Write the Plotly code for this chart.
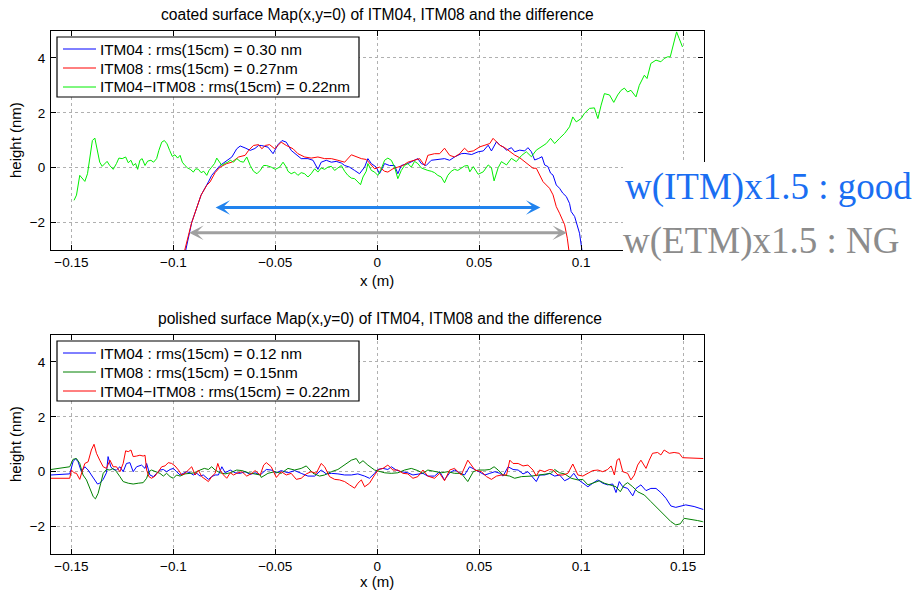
import plotly.graph_objects as go

# ---------------- data (x in m, height in nm) ----------------
top_title = "coated surface Map(x,y=0) of ITM04, ITM08 and the difference"
bot_title = "polished surface Map(x,y=0) of ITM04, ITM08 and the difference"
x_ticks = [-0.15, -0.1, -0.05, 0, 0.05, 0.1, 0.15]
x_tick_text = ["\u22120.15", "\u22120.1", "\u22120.05", "0", "0.05", "0.1", "0.15"]
y_ticks = [-2, 0, 2, 4]
y_tick_text = ["\u22122", "0", "2", "4"]

top_names = ["ITM04 : rms(15cm) = 0.30 nm", "ITM08 : rms(15cm) = 0.27nm",
             "ITM04\u2212ITM08 : rms(15cm) = 0.22nm"]
bot_names = ["ITM04 : rms(15cm) = 0.12 nm", "ITM08 : rms(15cm) = 0.15nm",
             "ITM04\u2212ITM08 : rms(15cm) = 0.22nm"]

top_itm04 = [(-0.0944,-3.3),(-0.0939,-3.0),(-0.0910,-2.0),(-0.0864,-1.0),(-0.0828,-0.52),(-0.0812,-0.28),
    (-0.0771,0.08),(-0.0746,0.2),(-0.0713,0.39),(-0.0689,0.69),(-0.0672,0.79),(-0.0648,0.72),(-0.0623,0.63),
    (-0.0600,0.7),(-0.0582,0.81),(-0.0569,0.81),(-0.0536,0.75),(-0.0511,0.51),(-0.0487,0.84),(-0.0467,0.99),
    (-0.0446,0.93),(-0.0422,0.63),(-0.0397,0.47),(-0.0373,0.33),(-0.0340,0.33),(-0.0315,0.27),(-0.0291,-0.06),
    (-0.0275,0.2),(-0.0250,0.27),(-0.0225,0.2),(-0.0201,0.23),(-0.0176,0.17),(-0.0160,0.08),(-0.0136,0.02),
    (-0.0111,-0.1),(-0.0087,-0.22),(-0.0062,0.02),(-0.0046,0.33),(-0.0029,0.15),(-0.0005,0.02),(0.0011,-0.22),
    (0.0036,0.15),(0.0060,0.08),(0.0085,0.08),(0.0101,-0.22),(0.0118,0.08),(0.0150,0.15),(0.0183,0.27),
    (0.0199,0.33),(0.0216,0.15),(0.0240,0.08),(0.0265,0.27),(0.0297,0.3),(0.0330,0.33),(0.0355,0.27),
    (0.0379,0.39),(0.0412,0.51),(0.0430,0.52),(0.0463,0.48),(0.0495,0.58),(0.0520,0.61),(0.0544,0.82),
    (0.0560,0.61),(0.0585,0.95),(0.0601,0.82),(0.0617,0.76),(0.0634,0.64),(0.0658,0.73),(0.0674,0.58),
    (0.0699,0.64),(0.0723,0.61),(0.0739,0.73),(0.0756,0.58),(0.0772,0.28),(0.0792,0.34),(0.0808,0.4),
    (0.0821,0.1),(0.0837,0.04),(0.0850,-0.2),(0.0862,-0.27),(0.0878,-0.63),(0.0894,-0.75),(0.0910,-0.93),
    (0.0927,-1.05),(0.0943,-1.3),(0.0951,-1.6),(0.0968,-1.78),(0.0981,-2.08),(0.0992,-2.39),(0.1003,-2.96),
    (0.1008,-3.3)]

top_itm08 = [(-0.0950,-3.3),(-0.0944,-3.0),(-0.0910,-2.0),(-0.0864,-1.0),(-0.0836,-0.64),(-0.0820,-0.52),
    (-0.0795,-0.18),(-0.0771,0.02),(-0.0738,0.15),(-0.0713,0.2),(-0.0680,0.39),(-0.0648,0.45),(-0.0631,0.63),
    (-0.0607,0.81),(-0.0582,0.84),(-0.0566,0.69),(-0.0549,0.81),(-0.0528,0.84),(-0.0503,0.69),(-0.0471,0.93),
    (-0.0446,0.81),(-0.0413,0.69),(-0.0389,0.51),(-0.0356,0.39),(-0.0324,0.35),(-0.0291,0.39),(-0.0258,0.33),
    (-0.0225,0.33),(-0.0193,0.27),(-0.0160,0.2),(-0.0127,0.47),(-0.0103,0.39),(-0.0078,0.33),(-0.0054,0.3),
    (-0.0029,0.08),(-0.0013,-0.04),(0.0011,0.02),(0.0036,-0.13),(0.0052,-0.16),(0.0077,-0.04),(0.0101,0.02),
    (0.0126,0.08),(0.0150,0.2),(0.0183,0.27),(0.0208,0.33),(0.0232,0.08),(0.0248,0.45),(0.0281,0.51),
    (0.0306,0.51),(0.0330,0.71),(0.0355,0.45),(0.0379,0.39),(0.0404,0.51),(0.0428,0.71),(0.0446,0.58),
    (0.0471,0.61),(0.0503,0.76),(0.0528,0.82),(0.0552,0.88),(0.0568,1.07),(0.0585,0.95),(0.0601,0.82),
    (0.0625,0.73),(0.0650,0.58),(0.0674,0.46),(0.0699,0.36),(0.0723,0.22),(0.0748,0.1),(0.0764,-0.02),
    (0.0780,-0.02),(0.0797,-0.27),(0.0813,-0.51),(0.0829,-0.63),(0.0845,-0.75),(0.0862,-0.99),(0.0878,-1.42),
    (0.0894,-1.66),(0.0906,-1.84),(0.0919,-2.08),(0.0932,-2.57),(0.0940,-2.96),(0.0945,-3.3)]

top_diff = [(-0.1487,-1.19),(-0.1475,-1.0),(-0.1459,-0.28),(-0.1448,-0.38),(-0.1434,-0.5),(-0.1421,-0.22),
    (-0.1410,0.33),(-0.1397,0.99),(-0.1385,1.08),(-0.1372,0.63),(-0.1361,0.2),(-0.1349,0.05),(-0.1336,0.15),
    (-0.1325,0.23),(-0.1312,0.08),(-0.1295,-0.06),(-0.1279,0.15),(-0.1267,0.35),(-0.1251,0.33),(-0.1234,0.39),
    (-0.1221,0.18),(-0.1208,0.27),(-0.1197,0.08),(-0.1185,0.15),(-0.1175,-0.06),(-0.1164,0.27),(-0.1153,0.33),
    (-0.1139,0.08),(-0.1126,0.24),(-0.1110,0.27),(-0.1097,0.2),(-0.1082,0.33),(-0.1071,0.63),(-0.1057,0.93),
    (-0.1044,0.99),(-0.1031,0.87),(-0.1018,0.63),(-0.1005,0.41),(-0.0992,0.47),(-0.0979,0.35),(-0.0967,0.45),
    (-0.0956,0.2),(-0.0943,0.08),(-0.0930,-0.01),(-0.0917,-0.06),(-0.0902,-0.16),(-0.0890,-0.04),(-0.0877,-0.06),
    (-0.0864,-0.18),(-0.0851,-0.13),(-0.0836,-0.28),(-0.0825,-0.1),(-0.0812,0.02),(-0.0798,0.15),(-0.0787,0.35),
    (-0.0776,0.23),(-0.0762,0.08),(-0.0749,0.15),(-0.0733,0.2),(-0.0721,0.27),(-0.0705,0.2),(-0.0689,0.33),
    (-0.0672,0.23),(-0.0656,0.2),(-0.0640,0.39),(-0.0623,0.08),(-0.0607,-0.13),(-0.0590,-0.22),(-0.0574,-0.1),
    (-0.0558,0.08),(-0.0544,0.08),(-0.0520,0.02),(-0.0500,-0.06),(-0.0479,0.02),(-0.0462,0.2),(-0.0446,0.02),
    (-0.0438,-0.13),(-0.0422,-0.22),(-0.0405,-0.16),(-0.0389,-0.28),(-0.0373,-0.18),(-0.0356,-0.22),
    (-0.0340,-0.34),(-0.0324,-0.22),(-0.0307,-0.04),(-0.0291,-0.16),(-0.0275,-0.01),(-0.0258,-0.06),
    (-0.0242,0.02),(-0.0225,0.05),(-0.0209,-0.1),(-0.0193,-0.01),(-0.0176,0.08),(-0.0160,-0.13),(-0.0144,-0.28),
    (-0.0127,-0.38),(-0.0111,-0.4),(-0.0095,-0.52),(-0.0082,-0.62),(-0.0070,-0.34),(-0.0054,-0.13),
    (-0.0046,0.15),(-0.0029,-0.1),(-0.0013,-0.16),(0.0003,-0.28),(0.0020,-0.04),(0.0036,0.27),(0.0052,0.35),
    (0.0069,0.27),(0.0085,0.02),(0.0101,-0.4),(0.0118,-0.1),(0.0134,0.08),(0.0150,0.15),(0.0167,0.02),
    (0.0183,0.23),(0.0199,0.15),(0.0216,-0.01),(0.0232,-0.06),(0.0248,-0.1),(0.0265,-0.13),(0.0281,-0.18),
    (0.0297,-0.28),(0.0314,-0.34),(0.0330,-0.55),(0.0346,-0.28),(0.0363,-0.13),(0.0379,-0.06),(0.0395,-0.1),
    (0.0412,-0.01),(0.0428,0.06),(0.0444,0.08),(0.0454,-0.15),(0.0471,0.04),(0.0495,-0.24),(0.0520,-0.15),
    (0.0544,0.1),(0.0560,0.0),(0.0573,-0.48),(0.0593,0.0),(0.0609,0.22),(0.0634,0.1),(0.0658,0.34),
    (0.0682,0.22),(0.0707,0.44),(0.0731,0.58),(0.0756,0.4),(0.0780,0.64),(0.0805,0.76),(0.0829,0.88),
    (0.0850,1.07),(0.0870,0.88),(0.0894,1.07),(0.0919,1.25),(0.0943,1.49),(0.0959,1.85),(0.0976,1.67),
    (0.1000,1.79),(0.1016,1.98),(0.1041,2.16),(0.1065,2.18),(0.1082,1.79),(0.1098,2.28),(0.1114,2.7),
    (0.1139,2.65),(0.1160,2.38),(0.1179,2.65),(0.1196,2.82),(0.1212,2.9),(0.1228,2.76),(0.1244,2.82),
    (0.1269,2.58),(0.1285,3.0),(0.1310,3.37),(0.1323,3.25),(0.1342,3.8),(0.1367,3.92),(0.1391,3.86),
    (0.1407,3.98),(0.1424,4.04),(0.1437,4.04),(0.1453,4.52),(0.1468,4.95),(0.1481,4.7),(0.1497,4.4)]

bot_itm04 = [(-0.1600,-0.12),(-0.1508,-0.08),(-0.1492,0.36),(-0.1480,0.48),(-0.1467,0.36),(-0.1451,0.0),
    (-0.1434,0.18),(-0.1418,0.06),(-0.1402,-0.12),(-0.1385,-0.3),(-0.1372,-0.45),(-0.1361,-0.42),(-0.1344,-0.28),
    (-0.1328,-0.04),(-0.1320,0.55),(-0.1307,0.18),(-0.1295,0.08),(-0.1279,0.06),(-0.1262,0.18),(-0.1246,0.0),
    (-0.1230,0.3),(-0.1213,0.33),(-0.1197,0.0),(-0.1180,0.18),(-0.1156,0.24),(-0.1139,0.12),(-0.1131,0.3),
    (-0.1115,-0.12),(-0.1098,-0.18),(-0.1082,-0.06),(-0.1066,0.06),(-0.1049,0.08),(-0.1033,0.0),(-0.1016,0.08),
    (-0.1000,0.12),(-0.0984,0.0),(-0.0967,-0.12),(-0.0951,-0.06),(-0.0935,0.0),(-0.0918,-0.04),(-0.0902,-0.12),
    (-0.0885,-0.06),(-0.0869,-0.16),(-0.0853,-0.12),(-0.0828,-0.28),(-0.0812,-0.18),(-0.0795,-0.12),
    (-0.0779,-0.12),(-0.0762,0.18),(-0.0746,-0.04),(-0.0721,0.06),(-0.0697,-0.04),(-0.0672,-0.06),(-0.0648,0.0),
    (-0.0623,-0.1),(-0.0599,-0.04),(-0.0574,-0.12),(-0.0544,0.08),(-0.0520,0.06),(-0.0495,-0.04),(-0.0471,0.04),
    (-0.0438,-0.04),(-0.0405,0.04),(-0.0373,-0.06),(-0.0340,-0.16),(-0.0307,-0.16),(-0.0275,0.06),(-0.0250,-0.08),
    (-0.0225,-0.06),(-0.0193,-0.08),(-0.0160,-0.12),(-0.0127,-0.12),(-0.0095,-0.08),(-0.0062,-0.16),
    (-0.0038,-0.24),(-0.0013,-0.06),(0.0003,0.08),(0.0028,0.12),(0.0052,0.08),(0.0069,0.18),(0.0093,0.06),
    (0.0118,0.0),(0.0150,-0.04),(0.0175,-0.12),(0.0199,-0.08),(0.0224,-0.06),(0.0248,-0.16),(0.0281,-0.16),
    (0.0306,0.0),(0.0330,-0.3),(0.0355,-0.04),(0.0379,0.06),(0.0404,-0.04),(0.0428,-0.12),(0.0453,0.18),
    (0.0479,0.08),(0.0503,0.0),(0.0528,-0.12),(0.0552,-0.06),(0.0577,0.0),(0.0601,-0.06),(0.0617,-0.16),
    (0.0642,0.18),(0.0666,0.08),(0.0691,0.06),(0.0715,-0.08),(0.0739,0.0),(0.0764,-0.24),(0.0780,-0.36),
    (0.0796,-0.12),(0.0821,-0.12),(0.0845,-0.06),(0.0870,-0.16),(0.0894,-0.12),(0.0919,-0.33),(0.0943,-0.24),
    (0.0964,-0.06),(0.0984,-0.28),(0.1008,-0.4),(0.1033,-0.55),(0.1057,-0.42),(0.1082,-0.3),(0.1106,-0.42),
    (0.1130,-0.48),(0.1155,-0.45),(0.1171,-0.76),(0.1187,-0.36),(0.1204,-0.55),(0.1228,-0.61),(0.1253,-0.88),
    (0.1269,-0.61),(0.1293,-0.48),(0.1318,-0.69),(0.1342,-0.61),(0.1367,-0.61),(0.1391,-0.76),(0.1416,-0.97),
    (0.1440,-1.25),(0.1464,-1.3),(0.1489,-1.25),(0.1513,-1.21),(0.1554,-1.27),(0.1595,-1.37),(0.1600,-1.38)]

bot_itm08 = [(-0.1600,0.08),(-0.1508,0.18),(-0.1492,0.45),(-0.1475,0.48),(-0.1459,0.3),(-0.1443,-0.12),
    (-0.1426,-0.3),(-0.1410,-0.6),(-0.1393,-0.91),(-0.1382,-0.99),(-0.1369,-0.79),(-0.1356,-0.42),(-0.1344,-0.06),
    (-0.1328,0.08),(-0.1311,0.06),(-0.1295,0.12),(-0.1279,0.0),(-0.1262,-0.18),(-0.1246,-0.36),(-0.1221,-0.42),
    (-0.1197,-0.45),(-0.1172,-0.42),(-0.1148,-0.4),(-0.1131,-0.24),(-0.1120,0.0),(-0.1107,0.06),(-0.1082,0.0),
    (-0.1066,-0.06),(-0.1049,-0.16),(-0.1033,-0.06),(-0.1016,-0.18),(-0.1000,-0.24),(-0.0984,-0.12),
    (-0.0967,-0.16),(-0.0943,-0.08),(-0.0918,-0.06),(-0.0893,-0.04),(-0.0869,0.06),(-0.0848,0.12),(-0.0828,0.08),
    (-0.0812,0.18),(-0.0795,0.06),(-0.0771,-0.04),(-0.0746,-0.08),(-0.0721,-0.04),(-0.0689,0.06),(-0.0664,0.04),
    (-0.0631,-0.04),(-0.0599,-0.08),(-0.0574,-0.12),(-0.0569,-0.21),(-0.0536,-0.06),(-0.0503,0.0),(-0.0471,-0.06),
    (-0.0438,0.12),(-0.0405,0.06),(-0.0373,0.12),(-0.0348,0.21),(-0.0315,-0.06),(-0.0283,-0.16),(-0.0258,-0.12),
    (-0.0225,0.0),(-0.0193,0.08),(-0.0160,0.24),(-0.0127,0.42),(-0.0103,0.48),(-0.0087,0.3),(-0.0070,0.4),
    (-0.0046,0.24),(-0.0013,0.06),(0.0011,0.0),(0.0036,-0.04),(0.0069,-0.06),(0.0101,-0.04),(0.0134,0.06),
    (0.0167,0.12),(0.0199,0.04),(0.0224,-0.06),(0.0248,0.06),(0.0281,0.0),(0.0314,-0.04),(0.0346,0.0),
    (0.0379,-0.06),(0.0412,-0.06),(0.0444,-0.36),(0.0471,0.0),(0.0495,0.06),(0.0528,0.06),(0.0552,0.08),
    (0.0573,0.18),(0.0593,0.06),(0.0617,-0.12),(0.0650,-0.16),(0.0674,-0.24),(0.0707,-0.18),(0.0756,-0.16),
    (0.0805,-0.12),(0.0853,-0.06),(0.0870,0.08),(0.0894,-0.04),(0.0919,-0.08),(0.0951,-0.24),(0.0984,-0.3),
    (0.1008,-0.28),(0.1033,-0.48),(0.1065,-0.4),(0.1090,-0.33),(0.1114,-0.42),(0.1147,-0.48),(0.1171,-0.55),
    (0.1192,-0.73),(0.1212,-0.48),(0.1228,-0.4),(0.1253,-0.55),(0.1277,-0.73),(0.1310,-0.85),(0.1342,-1.09),
    (0.1375,-1.33),(0.1407,-1.58),(0.1440,-1.82),(0.1464,-1.94),(0.1486,-1.9),(0.1505,-1.7),(0.1538,-1.73),
    (0.1570,-1.78),(0.1595,-1.82),(0.1600,-1.83)]

bot_diff = [(-0.1600,-0.24),(-0.1508,-0.24),(-0.1500,0.06),(-0.1487,-0.04),(-0.1475,-0.06),(-0.1459,-0.28),
    (-0.1448,0.0),(-0.1434,0.3),(-0.1418,0.36),(-0.1402,0.79),(-0.1389,1.0),(-0.1377,0.67),(-0.1361,0.42),
    (-0.1344,0.18),(-0.1328,0.12),(-0.1311,0.42),(-0.1295,0.18),(-0.1279,0.18),(-0.1262,0.0),(-0.1246,0.3),
    (-0.1234,0.76),(-0.1221,0.73),(-0.1208,0.79),(-0.1197,0.55),(-0.1180,0.57),(-0.1164,0.6),(-0.1148,0.57),
    (-0.1139,0.6),(-0.1131,0.06),(-0.1120,-0.18),(-0.1107,-0.24),(-0.1090,-0.16),(-0.1074,0.0),(-0.1057,0.18),
    (-0.1041,0.21),(-0.1025,0.33),(-0.1008,0.3),(-0.0992,0.21),(-0.0975,0.06),(-0.0959,-0.12),(-0.0943,-0.06),
    (-0.0926,0.06),(-0.0910,0.18),(-0.0893,-0.12),(-0.0877,0.06),(-0.0861,-0.18),(-0.0844,-0.28),(-0.0828,-0.36),
    (-0.0812,-0.18),(-0.0795,-0.06),(-0.0782,0.3),(-0.0771,0.06),(-0.0754,-0.12),(-0.0738,-0.24),(-0.0721,-0.04),
    (-0.0705,-0.12),(-0.0689,-0.06),(-0.0664,0.0),(-0.0640,-0.16),(-0.0615,-0.06),(-0.0599,0.04),(-0.0574,-0.12),
    (-0.0557,0.24),(-0.0544,0.33),(-0.0520,0.18),(-0.0495,-0.21),(-0.0471,0.0),(-0.0446,-0.12),(-0.0422,-0.06),
    (-0.0397,-0.28),(-0.0373,-0.24),(-0.0348,-0.08),(-0.0324,0.0),(-0.0299,-0.06),(-0.0275,0.3),(-0.0258,0.18),
    (-0.0234,-0.18),(-0.0209,-0.28),(-0.0185,-0.3),(-0.0160,-0.36),(-0.0136,-0.48),(-0.0111,-0.6),(-0.0095,-0.42),
    (-0.0078,-0.3),(-0.0062,-0.55),(-0.0038,-0.42),(-0.0013,-0.12),(0.0007,0.08),(0.0028,0.12),(0.0052,0.24),
    (0.0077,0.06),(0.0101,0.06),(0.0126,-0.06),(0.0150,-0.08),(0.0175,-0.24),(0.0199,-0.18),(0.0224,0.06),
    (0.0248,-0.16),(0.0281,-0.24),(0.0306,-0.06),(0.0330,-0.33),(0.0355,0.06),(0.0379,0.12),(0.0412,-0.12),
    (0.0444,0.42),(0.0479,0.06),(0.0511,0.0),(0.0536,-0.18),(0.0560,-0.28),(0.0585,-0.16),(0.0609,-0.12),
    (0.0634,-0.12),(0.0650,0.42),(0.0666,0.3),(0.0691,0.3),(0.0715,0.21),(0.0739,0.24),(0.0764,0.06),
    (0.0780,-0.16),(0.0796,0.06),(0.0821,0.0),(0.0845,0.08),(0.0862,0.06),(0.0886,-0.12),(0.0911,-0.12),
    (0.0935,-0.06),(0.0959,0.28),(0.0984,-0.12),(0.1008,-0.16),(0.1033,-0.06),(0.1057,0.04),(0.1082,0.06),
    (0.1106,0.0),(0.1130,0.08),(0.1147,0.21),(0.1163,-0.12),(0.1176,0.42),(0.1187,0.48),(0.1204,0.0),
    (0.1228,-0.06),(0.1244,-0.3),(0.1261,-0.12),(0.1277,0.24),(0.1293,0.42),(0.1318,0.12),(0.1334,0.42),
    (0.1350,0.67),(0.1375,0.7),(0.1391,0.61),(0.1407,0.79),(0.1432,0.67),(0.1456,0.7),(0.1481,0.67),
    (0.1497,0.51),(0.1595,0.48),(0.1600,0.48)]

itm_arrow = (-0.080, 0.080, -1.45)   # x start, x end, height
etm_arrow = (-0.093, 0.093, -2.37)

# ---------------- figure ----------------
W, H = 913, 592
FONT = "Liberation Sans, Arial, Helvetica, sans-serif"
SERIF = "Liberation Serif, Times New Roman, serif"

def px_x(p):
    return p / W

def px_y(p):
    return (H - p) / H

fig = go.Figure()
top_colors = ["#0000ff", "#ff0000", "#00ee00"]
bot_colors = ["#0000ff", "#008000", "#ff0000"]

def add(series, name, color, xa, ya):
    xs = [p[0] for p in series]
    ys = [p[1] for p in series]
    fig.add_trace(go.Scatter(x=xs, y=ys, mode="lines", name=name, xaxis=xa, yaxis=ya,
                             line=dict(color=color, width=1), showlegend=False))

for s, n, c in zip([top_itm04, top_itm08, top_diff], top_names, top_colors):
    add(s, n, c, "x", "y")
for s, n, c in zip([bot_itm04, bot_itm08, bot_diff], bot_names, bot_colors):
    add(s, n, c, "x2", "y2")

ax_common = dict(showline=True, linecolor="black", linewidth=1.3, mirror="allticks",
                 ticks="inside", ticklen=5, tickcolor="black", tickwidth=1,
                 showgrid=True, gridcolor="#b0b0b0", griddash="dot", gridwidth=1,
                 zeroline=False, automargin=False,
                 tickfont=dict(family=FONT, size=13.5, color="black"))

xdom = [px_x(51), px_x(703.5)]
top_ydom = [px_y(250), px_y(30.5)]
bot_ydom = [px_y(554), px_y(334.5)]
top_x_text = x_tick_text[:-1] + [""]   # 0.15 label is hidden behind the side note

fig.update_layout(
    width=W, height=H, margin=dict(l=0, r=0, t=0, b=0),
    paper_bgcolor="white", plot_bgcolor="white", showlegend=False,
    xaxis=dict(ax_common, domain=xdom, range=[-0.16, 0.16], tickvals=x_ticks, ticktext=top_x_text,
               anchor="y", ticklabelstandoff=0),
    yaxis=dict(ax_common, domain=top_ydom, range=[-3, 5], tickvals=y_ticks, ticktext=y_tick_text,
               anchor="x", ticklabelstandoff=2),
    xaxis2=dict(ax_common, domain=xdom, range=[-0.16, 0.16], tickvals=x_ticks, ticktext=x_tick_text,
                anchor="y2", ticklabelstandoff=0),
    yaxis2=dict(ax_common, domain=bot_ydom, range=[-3, 5], tickvals=y_ticks, ticktext=y_tick_text,
                anchor="x2", ticklabelstandoff=2),
)

ann = []
def text(x, y, s, size=15, color="black", angle=0, family=FONT, xanchor="center"):
    ann.append(dict(x=x, y=y, xref="paper", yref="paper", text=s, showarrow=False,
                    textangle=angle, xanchor=xanchor, yanchor="middle",
                    font=dict(family=family, size=size, color=color)))

# legends (MATLAB-style boxes)
def legend_box(top_px, names, colors):
    fig.add_shape(type="rect", xref="paper", yref="paper", x0=px_x(57), x1=px_x(359),
                  y0=px_y(top_px + 60), y1=px_y(top_px), fillcolor="white",
                  line=dict(color="black", width=1.2), layer="above")
    for i, (n, c) in enumerate(zip(names, colors)):
        yy = top_px + 12 + 19 * i
        fig.add_shape(type="line", xref="paper", yref="paper", x0=px_x(63), x1=px_x(96),
                      y0=px_y(yy), y1=px_y(yy), line=dict(color=c, width=1), layer="above")
        text(px_x(98), px_y(yy), n, size=15.3, xanchor="left")

legend_box(37, top_names, top_colors)
legend_box(341, bot_names, bot_colors)

# white box behind the side notes
fig.add_shape(type="rect", xref="paper", yref="paper", x0=px_x(623), x1=1.0,
              y0=px_y(278), y1=px_y(162), fillcolor="white", line=dict(width=0), layer="above")

text(px_x(377), px_y(14), top_title, size=15.6)
text(px_x(380), px_y(318), bot_title, size=15.6)
text(px_x(377), px_y(280), "x (m)")
text(px_x(377), px_y(581), "x (m)")
text(px_x(15), px_y(140), "height (nm)", angle=-90)
text(px_x(15), px_y(444), "height (nm)", angle=-90)
text(px_x(623), px_y(187), "w(ITM)x1.5 : good", size=37, color="#1a6ef2", family=SERIF, xanchor="left")
text(px_x(621), px_y(241), "w(ETM)x1.5 : NG", size=37, color="#8c8c8c", family=SERIF, xanchor="left")

for (x0, x1, yy), col in [(itm_arrow, "#2183ee"), (etm_arrow, "#a0a0a0")]:
    ann.append(dict(x=x1, y=yy, ax=x0, ay=yy, xref="x", yref="y", axref="x", ayref="y",
                    text="", showarrow=True, arrowside="end+start", arrowhead=3, startarrowhead=3,
                    arrowsize=0.8, startarrowsize=0.8, arrowwidth=3, arrowcolor=col,
                    standoff=0, startstandoff=0))

fig.update_layout(annotations=ann)
fig.write_html("out.html")
